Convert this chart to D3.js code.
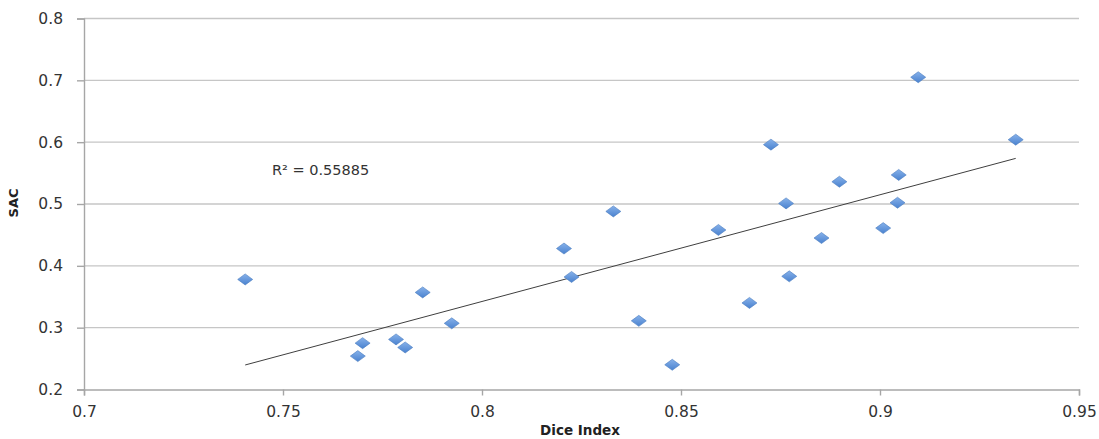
<!DOCTYPE html>
<html><head><meta charset="utf-8">
<script src="https://cdn.jsdelivr.net/npm/d3@7"></script>
<style>body{margin:0;background:#fff}svg{display:block}</style>
</head><body>
<svg id="c" width="1099" height="439"></svg>
<script>
const diceIndex = [0.7405,0.7688,0.7700,0.7784,0.7807,0.7851,0.7924,0.8206,0.8225,0.8330,0.8394,0.8478,0.8594,0.8672,0.8726,0.8764,0.8772,0.8853,0.8898,0.9008,0.9044,0.9047,0.9096,0.9341];
const sac       = [0.378,0.254,0.275,0.281,0.268,0.357,0.307,0.428,0.382,0.488,0.311,0.240,0.458,0.340,0.596,0.501,0.383,0.445,0.536,0.461,0.502,0.547,0.705,0.604];
const xTicks = [0.7,0.75,0.8,0.85,0.9,0.95];
const yTicks = [0.2,0.3,0.4,0.5,0.6,0.7,0.8];
const r2Label = "R² = 0.55885";

const svg = d3.select("#c");
const x = d3.scaleLinear().domain([0.7,0.95]).range([84,1079]);
const y = d3.scaleLinear().domain([0.2,0.8]).range([389.5,18.5]);
const font = "'DejaVu Sans', sans-serif";

// grid
svg.append("g").selectAll("line").data(yTicks.slice(1)).join("line")
  .attr("x1",x(0.7)).attr("x2",x(0.95)).attr("y1",d=>y(d)).attr("y2",d=>y(d))
  .attr("stroke","#c6c6c6").attr("stroke-width",1.4);

// axes
const yAxis = svg.append("g").attr("transform",`translate(${x(0.7)},0)`)
  .call(d3.axisLeft(y).tickValues(yTicks).tickFormat(d3.format("")).tickSize(7).tickPadding(14));
const xAxis = svg.append("g").attr("transform",`translate(0,${y(0.2)})`)
  .call(d3.axisBottom(x).tickValues(xTicks).tickFormat(d3.format("")).tickSize(6).tickPadding(10));
[yAxis,xAxis].forEach(a=>{
  a.select(".domain").attr("stroke","#a6a6a6").attr("stroke-width",1.4);
  a.selectAll(".tick line").attr("stroke","#a6a6a6").attr("stroke-width",1.4);
  a.selectAll("text").attr("font-family",font).attr("font-size",15.5).attr("fill","#333");
});

// regression
const n = diceIndex.length;
const mx = d3.mean(diceIndex), my = d3.mean(sac);
let sxy=0,sxx=0;
for(let i=0;i<n;i++){sxy+=(diceIndex[i]-mx)*(sac[i]-my);sxx+=(diceIndex[i]-mx)**2;}
const b = sxy/sxx, a0 = my - b*mx;
const xe = d3.extent(diceIndex);
svg.append("line")
  .attr("x1",x(xe[0])).attr("y1",y(a0+b*xe[0]))
  .attr("x2",x(xe[1])).attr("y2",y(a0+b*xe[1]))
  .attr("stroke","#3f3f3f").attr("stroke-width",1);

// markers
const defs = svg.append("defs");
const g = defs.append("linearGradient").attr("id","mg").attr("x1",0).attr("y1",0).attr("x2",0).attr("y2",1);
g.append("stop").attr("offset","0%").attr("stop-color","#86b1ea");
g.append("stop").attr("offset","100%").attr("stop-color","#4a82cf");
const pts = diceIndex.map((d,i)=>[d,sac[i]]);
svg.append("g").selectAll("path").data(pts).join("path")
  .attr("transform",d=>`translate(${x(d[0])},${y(d[1])})`)
  .attr("d","M0,-5.5L7.5,0L0,5.5L-7.5,0Z")
  .attr("fill","url(#mg)").attr("stroke","#4a7cc0").attr("stroke-width",0.6);

// R2 label
svg.append("text").attr("x",272).attr("y",175).text(r2Label)
  .attr("font-family",font).attr("font-size",14.5).attr("fill","#333");

// axis titles
svg.append("text").attr("transform","translate(18,203) rotate(-90)").attr("text-anchor","middle")
  .attr("font-family",font).attr("font-weight","bold").attr("font-size",13).attr("fill","#222").text("SAC");
svg.append("text").attr("x",580).attr("y",435).attr("text-anchor","middle")
  .attr("font-family",font).attr("font-weight","bold").attr("font-size",13.5).attr("fill","#222").text("Dice Index");
</script>
</body></html>
